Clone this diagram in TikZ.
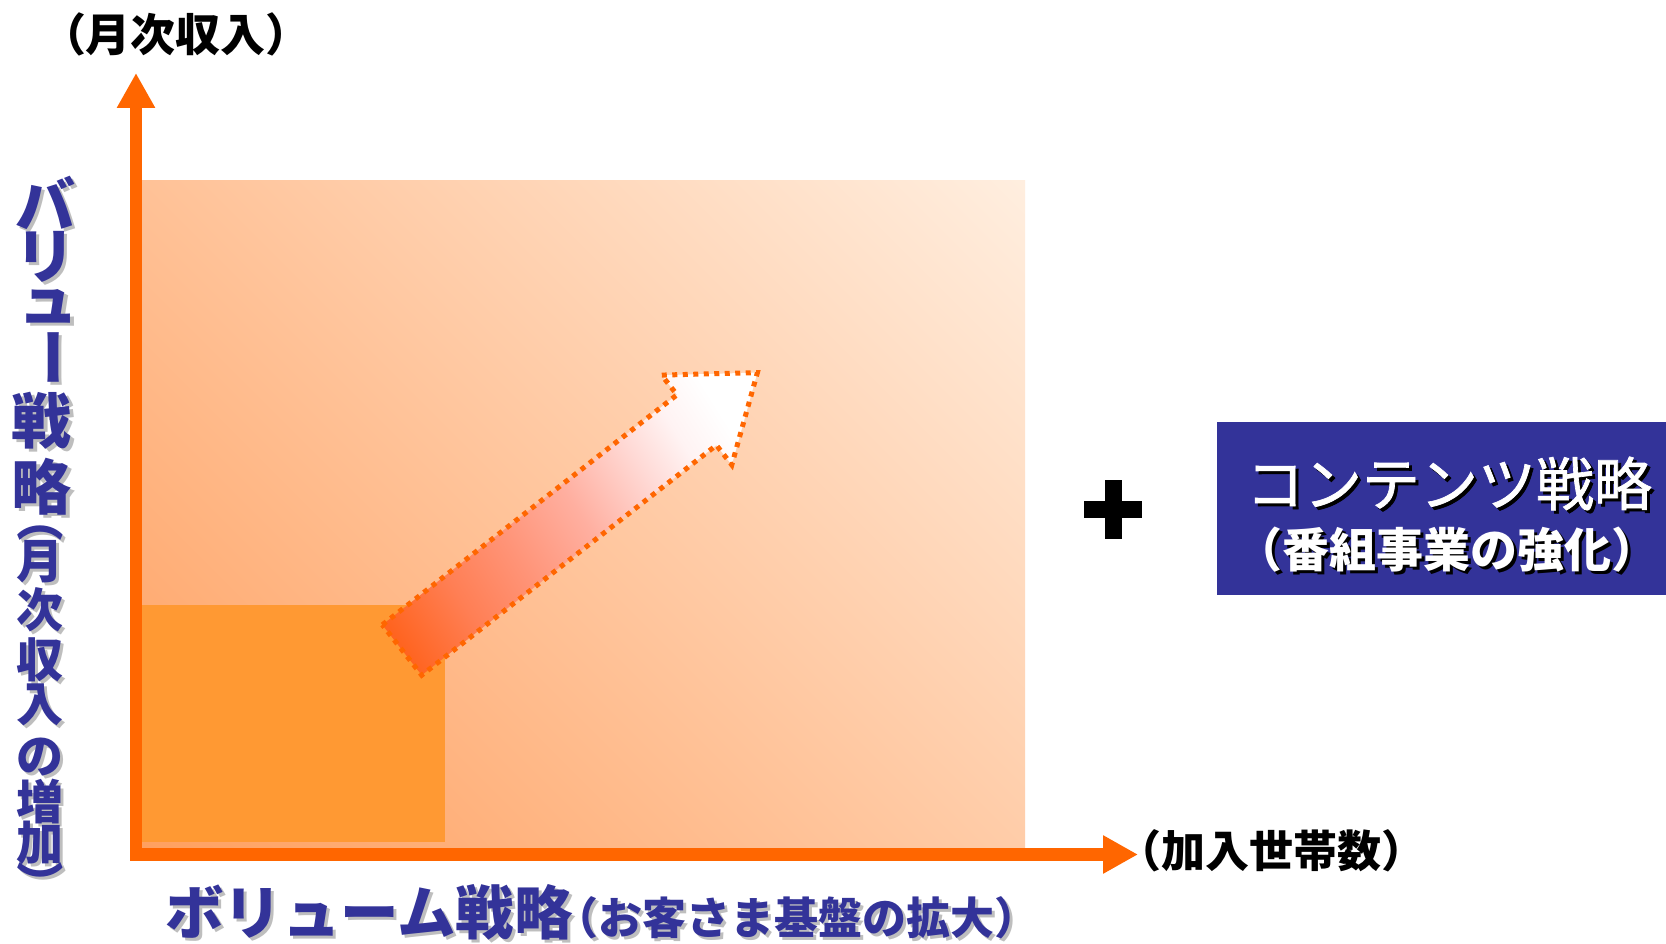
\documentclass[tikz,border=0pt]{standalone}
\usepackage{fontspec}
\newfontfamily\jp{Noto Sans CJK JP}
\newfontfamily\jpfb[FakeBold=1.2]{Noto Sans CJK JP}
\usetikzlibrary{arrows.meta}
\definecolor{axisor}{HTML}{FF6600}
\definecolor{boxor}{HTML}{FF9933}
\definecolor{navy}{HTML}{333399}
\definecolor{shgray}{HTML}{BEBEBE}
\definecolor{bgBL}{HTML}{FFA060}
\definecolor{bgTR}{HTML}{FFEEDF}
\definecolor{arA}{HTML}{FF6420}
\definecolor{arB}{HTML}{FF7F55}
\definecolor{arC}{HTML}{FF9478}
\definecolor{arD}{HTML}{FFAFA0}
\definecolor{arE}{HTML}{FFD9D5}
\definecolor{arF}{HTML}{FFF3F3}
\pgfdeclareverticalshading{bgsh}{100bp}{color(0bp)=(bgBL); color(14.6bp)=(bgBL); color(85.4bp)=(bgTR); color(100bp)=(bgTR)}
\pgfdeclarehorizontalshading{arsh}{100bp}{color(0bp)=(arA); color(20bp)=(arA); color(31bp)=(arB); color(41bp)=(arC); color(52bp)=(arD); color(63bp)=(arE); color(70bp)=(arF); color(77bp)=(white); color(100bp)=(white)}
\newcommand\shtxt[3]{\rlap{\kern#3\raisebox{-#3}{\textcolor{#1}{#2}}}#2}
\tikzset{
  axisline/.style={draw=axisor, line width=12.5pt, line join=miter,
    arrows={Triangle[length=35pt,width=36pt]-Triangle[length=35pt,width=36pt]}},
  vch/.style={inner sep=0pt, anchor=center},
  lbl/.style={inner sep=0pt, text=black},
  dotarrow/.style={shading=arsh, shading angle=32.2, draw=axisor, line width=5pt, dash pattern=on 5pt off 5.5pt},
}
\begin{document}
\begin{tikzpicture}[x=1pt,y=-1pt]
\useasboundingbox (0,0) rectangle (1666,944);
\fill[white] (0,0) rectangle (1666,944);
% background gradient rectangle
\shade[shading=bgsh, shading angle=-45] (141.7,181) rectangle (1025,848);
% small solid rectangle
\fill[boxor] (141.7,605) rectangle (445,842);
% big dotted arrow
\shadedraw[dotarrow] (382.3,624.8) -- (677.0,394.8) -- (661.6,375.1) -- (757.4,372.6)
  -- (731.8,464.9) -- (716.4,445.2) -- (421.7,675.2) -- cycle;
% axes
\coordinate (O) at (136,854.5);
\coordinate (ytip) at (136,73);
\coordinate (xtip) at (1138,854.5);
\draw[axisline] (ytip) -- (O) -- (xtip);
% axis labels
\node[lbl, font=\jp\bfseries\fontsize{45}{45}\selectfont] (ylab) at (176,34) {（月次収入）};
\node[lbl, font=\jp\bfseries\fontsize{44}{44}\selectfont] (xlab) at (1271,851) {（加入世帯数）};
% plus sign
\fill[black] (1084,501) rectangle (1142,518);
\fill[black] (1104.5,480) rectangle (1121.5,539);
% contents box
\node[fill=navy, minimum width=449pt, minimum height=173pt, inner sep=0pt, anchor=north west] (cbox) at (1217,422) {};
\node[inner sep=0pt, text=white, font=\jpfb\fontsize{58}{58}\selectfont] (c1) at (1449,485) {\shtxt{black}{コンテンツ戦略}{3pt}};
\node[inner sep=0pt, text=white, font=\jp\bfseries\fontsize{47}{47}\selectfont] (c2) at (1447,551) {\shtxt{black}{（番組事業の強化）}{3pt}};
% bottom label
\node[anchor=base west, inner sep=0pt, text=navy] (vol) at (165,934)
  {\jp\bfseries\fontsize{58.5}{58.5}\selectfont\shtxt{shgray}{ボリューム戦略}{3pt}\fontsize{44}{44}\selectfont\kern-18pt\shtxt{shgray}{（お客さま基盤の拡大）}{3pt}};
% vertical label
\foreach \ch/\yy/\xx/\rr/\fs [count=\i] in {バ/203/45/0/60, リ/257/45/0/60, ュ/306/49/0/60, ー/357/45/-90/60, 戦/421/42/0/60, 略/487/42/0/60, （/519/40/-90/47, 月/562/40/0/47, 次/610/40/0/47, 収/660/40/0/47, 入/705/40/0/47, の/757/40/0/47, 増/802/40/0/47, 加/843/40/0/47, ）/884/40/-90/47}
{
  \node[vch, text=shgray, rotate=\rr, font=\jp\bfseries\fontsize{\fs}{\fs}\selectfont] (vs\i) at (\xx+3,\yy+3) {\ch};
  \node[vch, text=navy, rotate=\rr, font=\jp\bfseries\fontsize{\fs}{\fs}\selectfont] (v\i) at (\xx,\yy) {\ch};
}
\end{tikzpicture}
\end{document}
